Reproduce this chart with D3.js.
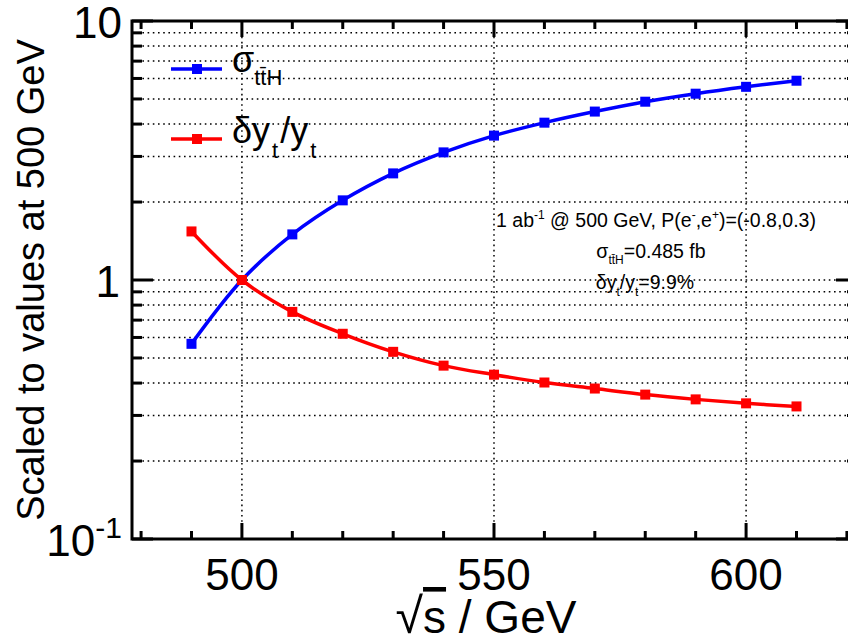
<!DOCTYPE html>
<html><head><meta charset="utf-8">
<script src="https://cdn.jsdelivr.net/npm/d3@7/dist/d3.min.js"></script>
<style>
body{margin:0;background:#fff}
svg{display:block}
text{font-family:"Liberation Sans",Arial,Helvetica,sans-serif;fill:#000}
</style>
</head><body>
<svg id="c" width="848" height="636"></svg>
<script>
// ---- data ----
const energies = [490,500,510,520,530,540,550,560,570,580,590,600,610];
const sigmaTTH = [0.567,1.0,1.50,2.03,2.58,3.11,3.61,4.05,4.47,4.88,5.24,5.57,5.88];
const dytYt    = [1.54,1.0,0.753,0.620,0.528,0.467,0.431,0.402,0.381,0.361,0.346,0.334,0.325];
const xMajorTicks = [500,550,600];
const xMinorTicks = d3.range(480,621,10);
const yMajorTicks = [0.1,1,10];
const yMinorTicks = [0.2,0.3,0.4,0.5,0.6,0.7,0.8,0.9,2,3,4,5,6,7,8,9];

// ---- layout ----
const L=132, R=857, T=21, B=539;
const svg=d3.select("#c");
const x=d3.scaleLinear().domain([478.2,622]).range([L,R]);
const y=d3.scaleLog().domain([0.1,10]).range([B,T]);

// grid
const grid=svg.append("g").attr("stroke","#000").attr("stroke-width",1.5).attr("stroke-dasharray","1.6,3.6");
grid.selectAll("line.h").data(yMinorTicks.concat([1])).join("line")
  .attr("x1",L).attr("x2",R).attr("y1",d=>y(d)).attr("y2",d=>y(d));
grid.selectAll("line.v").data(xMajorTicks).join("line")
  .attr("y1",T).attr("y2",B).attr("x1",d=>x(d)).attr("x2",d=>x(d));

// ticks
const tk=svg.append("g").attr("stroke","#000").attr("stroke-width",3);
const xt=(v)=>xMajorTicks.includes(v)?16:8;
tk.selectAll("line.xb").data(xMinorTicks).join("line")
  .attr("x1",d=>x(d)).attr("x2",d=>x(d)).attr("y1",B).attr("y2",d=>B-xt(d));
tk.selectAll("line.xt").data(xMinorTicks).join("line")
  .attr("x1",d=>x(d)).attr("x2",d=>x(d)).attr("y1",T).attr("y2",d=>T+xt(d));
const yAll=yMajorTicks.concat(yMinorTicks);
const yt=(v)=>yMajorTicks.includes(v)?21:10;
tk.selectAll("line.yl").data(yAll).join("line")
  .attr("y1",d=>y(d)).attr("y2",d=>y(d)).attr("x1",L).attr("x2",d=>L+yt(d));
tk.selectAll("line.yr").data(yAll).join("line")
  .attr("y1",d=>y(d)).attr("y2",d=>y(d)).attr("x1",R).attr("x2",d=>R-yt(d));

// frame
svg.append("rect").attr("x",L).attr("y",T).attr("width",R-L).attr("height",B-T)
  .attr("fill","none").attr("stroke","#000").attr("stroke-width",3);

// tick labels
svg.selectAll("text.xl").data(xMajorTicks).join("text")
  .attr("x",d=>x(d)).attr("y",590).attr("text-anchor","middle")
  .attr("font-size",44).text(d=>d);
const yLab=svg.append("g").attr("font-size",44).attr("text-anchor","end");
yLab.append("text").attr("x",122).attr("y",y(10)+17).text("10");
yLab.append("text").attr("x",120).attr("y",y(1)+17).text("1");
const t01=yLab.append("text").attr("x",122).attr("y",y(0.1)+17).attr("text-anchor","end");
t01.append("tspan").text("10");
t01.append("tspan").attr("font-size",30).attr("dy",-18).text("-1");

// axis titles
svg.append("text").attr("transform","translate(44,"+((T+B)/2)+") rotate(-90)")
  .attr("text-anchor","middle").attr("font-size",38).text("Scaled to values at 500 GeV");
const xtitle=svg.append("text").attr("x",486).attr("y",633).attr("text-anchor","middle").attr("font-size",46);
xtitle.append("tspan").attr("font-size",50).text("\u221A");
xtitle.append("tspan").attr("style","text-decoration:overline").text("s");
xtitle.append("tspan").text(" / GeV");

// series
const series=[{vals:sigmaTTH,color:"#0000ff"},{vals:dytYt,color:"#ff0000"}];
const line=d3.line().x(d=>x(d[0])).y(d=>y(d[1])).curve(d3.curveCatmullRom.alpha(0.5));
series.forEach(s=>{
  const pts=energies.map((e,i)=>[e,s.vals[i]]);
  svg.append("path").attr("d",line(pts)).attr("fill","none").attr("stroke",s.color).attr("stroke-width",3.5);
  svg.selectAll(null).data(pts).join("rect")
    .attr("x",d=>x(d[0])-5).attr("y",d=>y(d[1])-5).attr("width",10).attr("height",10).attr("fill",s.color);
});

// legend
const leg=[{color:"#0000ff",y:69},{color:"#ff0000",y:139}];
leg.forEach(l=>{
  svg.append("line").attr("x1",171).attr("x2",222).attr("y1",l.y).attr("y2",l.y).attr("stroke",l.color).attr("stroke-width",3.5);
  svg.append("rect").attr("x",192).attr("y",l.y-5).attr("width",10).attr("height",10).attr("fill",l.color);
});
const lg1=svg.append("text").attr("x",232).attr("y",72).attr("font-size",36);
lg1.append("tspan").text("\u03C3");
lg1.append("tspan").attr("font-size",22).attr("dy",13).text("tt\u0304H");
const lg2=svg.append("text").attr("x",232).attr("y",143).attr("font-size",36);
lg2.append("tspan").text("\u03B4y");
lg2.append("tspan").attr("font-size",22).attr("dy",15).attr("dx",2).text("t");
lg2.append("tspan").attr("dy",-15).attr("dx",2).text("/y");
lg2.append("tspan").attr("font-size",22).attr("dy",15).attr("dx",2).text("t");

// annotation
const an=svg.append("g").attr("font-size",19.5);
const a1=an.append("text").attr("x",656).attr("y",227).attr("text-anchor","middle");
a1.append("tspan").text("1 ab");
a1.append("tspan").attr("font-size",12).attr("dy",-8).text("-1");
a1.append("tspan").attr("dy",8).text(" @ 500 GeV, P(e");
a1.append("tspan").attr("font-size",12).attr("dy",-8).text("-");
a1.append("tspan").attr("dy",8).text(",e");
a1.append("tspan").attr("font-size",12).attr("dy",-8).text("+");
a1.append("tspan").attr("dy",8).text(")=(-0.8,0.3)");
const a2=an.append("text").attr("x",651).attr("y",258).attr("text-anchor","middle");
a2.append("tspan").text("\u03C3");
a2.append("tspan").attr("font-size",12).attr("dy",6).text("tt\u0304H");
a2.append("tspan").attr("dy",-6).text("=0.485 fb");
const a3=an.append("text").attr("x",645).attr("y",289).attr("text-anchor","middle");
a3.append("tspan").text("\u03B4y");
a3.append("tspan").attr("font-size",12).attr("dy",7).text("t");
a3.append("tspan").attr("dy",-7).text("/y");
a3.append("tspan").attr("font-size",12).attr("dy",7).text("t");
a3.append("tspan").attr("dy",-7).text("=9.9%");
</script>
</body></html>
